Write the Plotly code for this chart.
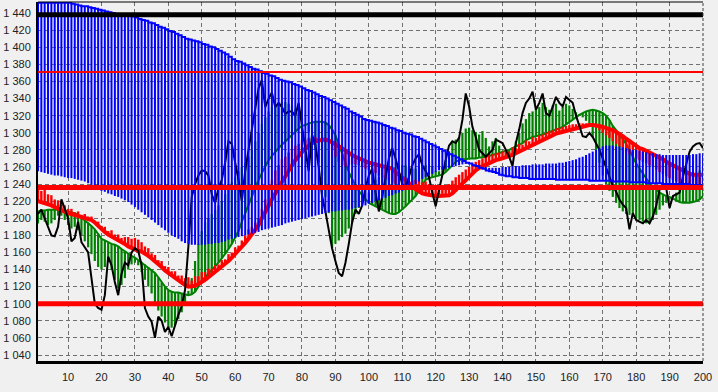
import numpy as np
import plotly.graph_objects as go

x = list(range(1, 201))

price = [
1205,1210,1200,1190,1180,1179,1190,1222,1212,1200,
1173,1177,1196,1172,1166,1160,1130,1100,1095,1093,
1110,1155,1145,1125,1110,1135,1148,1145,1160,1165,
1162,1145,1095,1085,1079,1060,1085,1080,1067,1073,
1062,1075,1087,1097,1116,1167,1225,1240,1250,1256,
1255,1250,1228,1218,1235,1245,1265,1290,1287,1265,
1245,1220,1255,1280,1305,1332,1352,1362,1330,1340,
1347,1330,1335,1330,1322,1325,1325,1320,1335,1308,
1282,1255,1298,1286,1260,1226,1208,1185,1165,1150,
1136,1132,1148,1170,1195,1210,1205,1215,1235,1250,
1258,1230,1208,1225,1250,1270,1282,1270,1255,1240,
1235,1250,1262,1270,1275,1262,1255,1248,1230,1214,
1233,1249,1268,1285,1290,1288,1294,1315,1346,1331,
1307,1295,1280,1276,1272,1276,1280,1292,1290,1288,
1280,1272,1261,1288,1304,1323,1335,1340,1348,1327,
1335,1346,1323,1320,1330,1342,1335,1331,1342,1338,
1335,1320,1308,1296,1295,1300,1295,1288,1280,1270,
1260,1250,1238,1231,1222,1216,1212,1187,1206,1198,
1196,1194,1198,1194,1202,1215,1233,1240,1235,1212,
1226,1228,1230,1249,1265,1278,1284,1287,1288,1282]

blue_upper = [
1452,1452,1452,1452,1452,1452,1452,1452,1452,1452,
1451,1450,1449,1448,1448,1447,1446,1445,1444,1443,
1442,1441,1440,1439,1439,1438,1437,1437,1436,1435,
1433,1432,1431,1429,1428,1426,1424,1423,1421,1419,
1418,1416,1414,1412,1410,1409,1408,1407,1406,1404,
1403,1401,1400,1398,1396,1394,1392,1389,1386,1384,
1383,1381,1379,1377,1375,1374,1372,1370,1369,1367,
1366,1364,1362,1361,1360,1359,1357,1356,1354,1352,
1350,1349,1347,1345,1343,1342,1340,1338,1336,1334,
1332,1330,1328,1325,1323,1321,1319,1316,1315,1314,
1313,1312,1311,1309,1308,1306,1305,1303,1302,1300,
1299,1298,1296,1295,1293,1291,1289,1287,1285,1283,
1281,1279,1277,1275,1273,1271,1269,1267,1265,1264,
1262,1261,1259,1258,1256,1255,1254,1253,1251,1250,
1249,1249,1248,1248,1247,1247,1247,1246,1246,1246,
1246,1246,1246,1246,1246,1245,1245,1245,1245,1245,
1245,1245,1245,1245,1245,1244,1244,1244,1244,1244,
1244,1244,1243,1243,1243,1243,1243,1242,1242,1242,
1242,1242,1241,1241,1241,1241,1241,1240,1240,1240,
1240,1240,1240,1240,1240,1239,1239,1239,1239,1239]

blue_lower = [
1255,1254,1253,1252,1251,1250,1250,1249,1248,1247,
1247,1246,1245,1244,1243,1241,1239,1237,1235,1232,
1231,1229,1228,1226,1225,1223,1221,1219,1216,1213,
1210,1207,1204,1201,1198,1195,1192,1189,1186,1183,
1180,1178,1176,1173,1171,1170,1169,1169,1169,1169,
1169,1170,1170,1171,1171,1172,1173,1175,1176,1177,
1178,1179,1180,1181,1182,1183,1184,1186,1187,1188,
1189,1190,1191,1192,1194,1195,1196,1197,1198,1199,
1200,1201,1202,1203,1204,1205,1206,1207,1208,1208,
1209,1209,1210,1210,1211,1212,1213,1214,1215,1217,
1218,1220,1221,1223,1224,1226,1227,1229,1230,1232,
1234,1235,1237,1240,1243,1246,1248,1250,1252,1254,
1256,1257,1258,1259,1260,1261,1262,1263,1264,1264,
1263,1262,1261,1260,1260,1259,1259,1259,1259,1260,
1260,1260,1261,1261,1261,1262,1262,1262,1263,1263,
1263,1263,1264,1264,1264,1264,1265,1265,1266,1267,
1268,1269,1271,1272,1274,1276,1278,1280,1282,1284,
1285,1285,1285,1284,1284,1283,1282,1281,1280,1280,
1279,1278,1277,1276,1276,1275,1275,1274,1274,1274,
1274,1274,1274,1274,1274,1274,1275,1275,1276,1276]

green_line = [
1208,1209,1209,1210,1210,1210,1210,1209,1209,1208,
1207,1206,1204,1201,1198,1195,1191,1187,1182,1176,
1174,1172,1170,1169,1167,1164,1161,1159,1156,1154,
1151,1149,1146,1143,1140,1136,1131,1125,1120,1116,
1114,1113,1113,1112,1111,1110,1111,1114,1120,1127,
1131,1135,1139,1144,1148,1153,1158,1164,1170,1177,
1185,1196,1206,1215,1225,1234,1245,1253,1261,1268,
1273,1278,1282,1286,1290,1294,1298,1302,1305,1308,
1309,1311,1312,1313,1313,1313,1312,1309,1304,1297,
1287,1276,1264,1254,1246,1238,1232,1227,1222,1218,
1216,1214,1212,1210,1208,1206,1205,1205,1207,1210,
1214,1218,1222,1226,1232,1238,1245,1247,1248,1249,
1250,1251,1254,1258,1262,1266,1268,1269,1269,1270,
1270,1270,1271,1271,1272,1273,1274,1275,1276,1278,
1279,1280,1282,1284,1286,1288,1291,1293,1295,1296,
1297,1298,1299,1301,1302,1304,1305,1307,1310,1313,
1316,1319,1321,1323,1325,1326,1327,1326,1325,1323,
1320,1315,1308,1303,1298,1292,1287,1280,1272,1264,
1258,1252,1246,1241,1237,1233,1230,1228,1226,1225,
1223,1221,1219,1218,1218,1218,1219,1220,1222,1226]

green_end = [
1194,1198,1196,1192,1194,1198,1203,1203,1198,1192,
1188,1190,1186,1180,1173,1166,1158,1150,1143,1140,
1143,1150,1140,1128,1118,1122,1130,1140,1146,1148,
1145,1137,1128,1120,1112,1102,1092,1085,1078,1073,
1072,1075,1082,1090,1100,1115,1130,1150,1170,1185,
1195,1200,1205,1210,1215,1220,1228,1236,1242,1248,
1255,1260,1265,1272,1280,1290,1300,1310,1318,1325,
1330,1333,1335,1336,1336,1334,1332,1328,1323,1318,
1310,1300,1290,1280,1265,1250,1225,1206,1165,1170,
1174,1178,1182,1188,1195,1205,1212,1216,1220,1230,
1240,1245,1248,1250,1252,1255,1258,1260,1262,1262,
1262,1260,1258,1258,1260,1262,1262,1262,1260,1255,
1255,1260,1268,1278,1288,1292,1295,1300,1305,1306,
1303,1301,1298,1302,1294,1284,1290,1294,1285,1276,
1270,1272,1280,1290,1300,1311,1316,1323,1325,1327,
1330,1335,1330,1327,1332,1334,1326,1330,1334,1332,
1328,1324,1322,1318,1314,1310,1295,1280,1265,1250,
1240,1232,1225,1218,1212,1208,1205,1204,1202,1200,
1198,1196,1194,1194,1198,1204,1210,1215,1218,1222,
1226,1230,1233,1236,1240,1244,1248,1252,1256,1260]

red_line = [
1220,1219,1218,1216,1215,1213,1211,1209,1208,1206,
1205,1204,1203,1202,1201,1200,1198,1195,1191,1187,
1184,1181,1179,1177,1175,1173,1170,1167,1165,1163,
1162,1161,1159,1156,1153,1150,1147,1143,1139,1136,
1133,1130,1127,1124,1122,1120,1120,1121,1123,1125,
1128,1131,1134,1137,1140,1143,1146,1150,1154,1158,
1162,1166,1171,1176,1181,1186,1192,1200,1208,1215,
1222,1229,1236,1243,1250,1256,1262,1268,1273,1278,
1282,1285,1288,1290,1291,1292,1292,1291,1289,1287,
1285,1282,1279,1276,1274,1272,1270,1268,1267,1265,
1264,1263,1262,1261,1260,1259,1258,1254,1251,1248,
1245,1242,1238,1234,1231,1229,1228,1227,1226,1226,
1226,1226,1226,1227,1229,1233,1237,1241,1245,1249,
1253,1256,1259,1261,1263,1265,1266,1268,1269,1270,
1271,1272,1274,1276,1278,1280,1282,1284,1286,1288,
1290,1292,1294,1296,1297,1299,1300,1301,1303,1304,
1305,1306,1307,1308,1309,1309,1309,1309,1308,1307,
1306,1305,1303,1301,1299,1296,1293,1290,1287,1284,
1282,1281,1279,1278,1276,1274,1271,1269,1266,1264,
1262,1260,1257,1255,1253,1252,1251,1251,1251,1251]

red_end = [
1235,1232,1233,1228,1227,1222,1221,1216,1215,1211,
1211,1207,1208,1204,1205,1202,1202,1197,1196,1191,
1190,1185,1186,1181,1181,1177,1178,1178,1176,1177,
1175,1172,1167,1165,1159,1157,1151,1150,1144,1143,
1138,1138,1133,1133,1130,1131,1127,1132,1132,1137,
1137,1141,1141,1145,1146,1151,1152,1158,1160,1166,
1168,1174,1180,1187,1190,1195,1200,1211,1222,1236,
1245,1256,1262,1269,1272,1277,1280,1285,1287,1291,
1292,1294,1294,1295,1294,1295,1293,1290,1280,1272,
1266,1262,1260,1262,1263,1263,1262,1260,1258,1256,
1255,1253,1250,1248,1246,1244,1242,1240,1238,1236,
1235,1240,1244,1245,1244,1242,1243,1240,1238,1236,
1237,1236,1238,1240,1244,1248,1251,1254,1257,1260,
1263,1266,1268,1270,1272,1274,1275,1276,1277,1278,
1280,1278,1283,1282,1287,1286,1291,1290,1295,1294,
1297,1298,1300,1302,1303,1305,1306,1307,1308,1309,
1310,1310,1311,1311,1311,1311,1311,1306,1303,1300,
1297,1294,1290,1287,1284,1281,1278,1275,1272,1270,
1268,1266,1264,1262,1260,1257,1254,1252,1249,1247,
1245,1243,1241,1240,1239,1238,1238,1238,1238,1238]

level_black = 1438
level_red_thin = 1371
level_red_mid = 1236
level_red_low = 1100

y_ticks = list(range(1040, 1441, 20))
y_labels = ["1 %03d" % (v - 1000) for v in y_ticks]
x_ticks = list(range(10, 201, 10))
x_labels = [str(v) for v in x_ticks]


def segments(xs, a, b):
    """Vertical segments from a[i] to b[i] at xs[i], separated by gaps."""
    sx, sy = [], []
    for xi, ai, bi in zip(xs, a, b):
        sx += [xi, xi, None]
        sy += [ai, bi, None]
    return sx, sy


fig = go.Figure()

gx, gy = segments(x, green_line, green_end)
fig.add_trace(go.Scatter(x=gx, y=gy, mode="lines", connectgaps=False,
                         line=dict(color="#008000", width=2.2)))
fig.add_trace(go.Scatter(x=x, y=green_line, mode="lines",
                         line=dict(color="#008000", width=2)))

rx, ry = segments(x, red_line, red_end)
fig.add_trace(go.Scatter(x=rx, y=ry, mode="lines", connectgaps=False,
                         line=dict(color="#FF0000", width=2.4)))
fig.add_trace(go.Scatter(x=x, y=red_line, mode="lines",
                         line=dict(color="#FF0000", width=4)))

fig.add_trace(go.Scatter(x=x, y=price, mode="lines",
                         line=dict(color="#000000", width=2)))

bx, by = segments(x, blue_lower, blue_upper)
fig.add_trace(go.Scatter(x=bx, y=by, mode="lines", connectgaps=False,
                         line=dict(color="#0000FF", width=2.0)))
fig.add_trace(go.Scatter(x=x, y=blue_upper, mode="lines",
                         line=dict(color="#0000FF", width=2, shape="hv")))

shapes = []
for lvl, col, w in [(level_red_low, "#FF0000", 5), (level_red_mid, "#FF0000", 5),
                    (level_red_thin, "#FF0000", 2), (level_black, "#000000", 5)]:
    shapes.append(dict(type="line", xref="paper", x0=0, x1=1, yref="y", y0=lvl, y1=lvl,
                       line=dict(color=col, width=w), layer="above"))
shapes.append(dict(type="line", xref="paper", x0=1, x1=1, yref="paper", y0=0, y1=1,
                   line=dict(color="#404040", width=1, dash="3px,2px"), layer="above"))
shapes.append(dict(type="line", xref="paper", x0=0, x1=1, yref="paper", y0=1, y1=1,
                   line=dict(color="#000000", width=1), layer="above"))

fig.update_layout(
    width=718, height=392,
    margin=dict(l=38, r=15, t=2, b=31),
    paper_bgcolor="#F0F0F0", plot_bgcolor="#F0F0F0",
    showlegend=False,
    shapes=shapes,
    font=dict(family="Liberation Sans, Arial, sans-serif", size=11, color="#222222"),
)
fig.update_xaxes(range=[1, 200], tickvals=x_ticks, ticktext=x_labels,
                 showgrid=True, gridcolor="#707070", gridwidth=1, griddash="4px,3px",
                 zeroline=False, showline=True, linecolor="#000000", linewidth=3,
                 ticks="", ticklabelstandoff=4)
fig.update_yaxes(range=[1033, 1453], tickvals=y_ticks, ticktext=y_labels,
                 showgrid=True, gridcolor="#707070", gridwidth=1, griddash="4px,3px",
                 zeroline=False, showline=True, linecolor="#000000", linewidth=2,
                 ticks="", ticklabelstandoff=3)

fig.write_html("out.html")
